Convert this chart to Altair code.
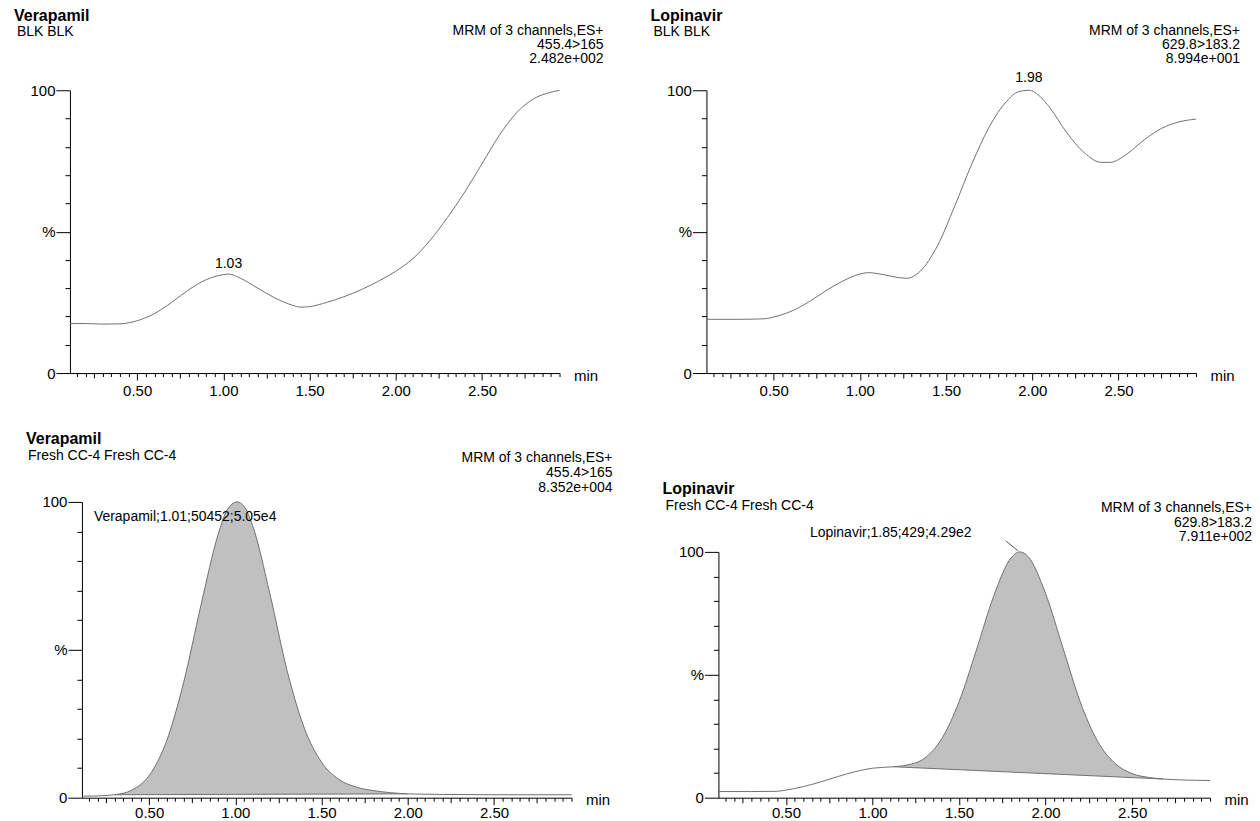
import altair as alt
import pandas as pd

FONT = "Liberation Sans"
T_START, T_END = 0.11, 2.95

# ---------------- data ----------------
# Verapamil, BLK BLK
vb_t = [0.11, 0.2, 0.3, 0.4, 0.5, 0.6, 0.7, 0.8, 0.9, 1.0, 1.03, 1.1, 1.2, 1.3, 1.4, 1.45,
        1.5, 1.6, 1.7, 1.8, 1.9, 2.0, 2.1, 2.2, 2.3, 2.4, 2.5, 2.6, 2.7, 2.8, 2.9, 2.95]
vb_y = [17.5, 17.5, 17.3, 17.4, 18.5, 21, 25, 29.5, 33, 34.8, 35, 33.5, 30, 26.5, 24, 23.3,
        23.5, 25, 27, 29.5, 32.5, 36, 40.5, 47, 55, 64, 74, 84, 92, 97, 99.3, 100]

# Lopinavir, BLK BLK
lb_t = [0.11, 0.3, 0.45, 0.5, 0.6, 0.7, 0.8, 0.9, 1.0, 1.05, 1.1, 1.2, 1.27, 1.35, 1.45, 1.55,
        1.65, 1.75, 1.85, 1.92, 1.98, 2.05, 2.1, 2.2, 2.3, 2.4, 2.45, 2.55, 2.65, 2.75, 2.85, 2.95]
lb_y = [19, 19, 19.2, 19.8, 21.8, 25, 29, 32.5, 35, 35.5, 35.2, 34, 33.5, 36, 45, 59,
        74, 87, 96, 99.5, 100, 97.5, 94, 85, 78, 74.5, 74.5, 77.5, 82.5, 86.5, 88.8, 89.8]

# Verapamil, Fresh CC-4
vc_t = [0.11, 0.2, 0.3, 0.4, 0.5, 0.6, 0.7, 0.8, 0.9, 0.95, 1.01, 1.05, 1.1, 1.2, 1.3, 1.4,
        1.5, 1.6, 1.7, 1.8, 1.9, 2.0, 2.2, 2.5, 2.95]
vc_y = [0.5, 0.6, 1.0, 2.6, 7.5, 19, 39, 65, 89, 97, 100, 98.5, 92, 69, 43, 23.5,
        12, 6.2, 3.6, 2.4, 1.7, 1.3, 1.1, 1.0, 1.0]
vc_fill = [0.3, 2.0]          # integrated region (min)
vc_base = [1.0, 1.3]          # baseline % at region ends

# Lopinavir, Fresh CC-4
lc_t = [0.11, 0.3, 0.45, 0.5, 0.6, 0.7, 0.8, 0.9, 1.0, 1.12, 1.2, 1.3, 1.4, 1.5, 1.6, 1.7,
        1.8, 1.85, 1.9, 2.0, 2.1, 2.2, 2.3, 2.4, 2.5, 2.6, 2.68, 2.8, 2.95]
lc_y = [2.5, 2.5, 2.6, 3.1, 4.5, 6.4, 8.6, 10.6, 12.0, 12.6, 13.3, 16, 24, 39, 60, 82,
        97.5, 100, 98, 83, 61, 39, 23, 14, 9.8, 8.2, 7.6, 7.2, 7.0]
lc_fill = [1.12, 2.68]
lc_base = [12.6, 7.6]

# tick values
x_ticks = [round(0.15 + 0.05 * i, 2) for i in range(57)]
y_ticks = list(range(0, 101, 10))

MAJOR = "abs(datum.value*2 - round(datum.value*2)) < 0.001"
MID = "abs(datum.value*4 - round(datum.value*4)) < 0.001"

LINE_COLOR = "#707070"
FILL_COLOR = "#c0c0c0"
FS = 14      # header / annotation font size
AFS = 15     # axis label font size
TFS = 16     # compound title size


def encs(xrange, yrange, yoffset, lpad):
    x_axis = alt.Axis(
        values=x_ticks,
        tickSize={"condition": [{"test": MAJOR, "value": 7}, {"test": MID, "value": 5}], "value": 3.5},
        labelExpr=f"{MAJOR} ? format(datum.value, '.2f') : ''",
        labelFont=FONT, labelFontSize=AFS, labelColor="black", labelPadding=lpad,
        labelOverlap=False, labelFlush=False,
        domainColor="black", domainWidth=1, tickColor="black", tickWidth=1, grid=False,
        title="min", titleX=xrange[1] + 14, titleY=2, titleAlign="left", titleBaseline="middle",
        titleFont=FONT, titleFontSize=AFS, titleFontWeight="normal", titleColor="black",
    )
    y_axis = alt.Axis(
        values=y_ticks,
        tickSize={"condition": {"test": "datum.value % 50 === 0", "value": 14}, "value": 5},
        labelExpr="datum.value === 100 ? '100' : datum.value === 50 ? '%' : datum.value === 0 ? '0' : ''",
        labelFont=FONT, labelFontSize=AFS, labelColor="black", labelPadding=1, labelOverlap=False,
        labelFlush=False,
        domainColor="black", domainWidth=1, tickColor="black", tickWidth=1, grid=False,
        title="", offset=yoffset,
    )
    x = alt.X("t:Q", scale=alt.Scale(domain=[T_START, T_END], range=xrange, nice=False, zero=False),
              axis=x_axis)
    y = alt.Y("y:Q", scale=alt.Scale(domain=[0, 100], range=yrange, nice=False, zero=False),
              axis=y_axis)
    return x, y


def text_at(txt, px, py, align="left", size=FS, bold=False):
    return alt.Chart(alt.Data(values=[{}])).mark_text(
        text=txt, align=align, baseline="middle", font=FONT, fontSize=size,
        fontWeight="bold" if bold else "normal", color="black",
    ).encode(x=alt.value(px), y=alt.value(py))


def panel(t, y, xrange, yrange, height, yoffset, heads, labels, fill=None, leader=None, lpad=3):
    x_enc, y_enc = encs(xrange, yrange, yoffset, lpad)
    df = pd.DataFrame({"t": t, "y": y})
    layers = []
    if fill is not None:
        (ta, tb), (ba, bb) = fill
        area = alt.Chart(df).transform_filter(
            f"datum.t >= {ta} - 1e-9 && datum.t <= {tb} + 1e-9"
        ).transform_calculate(
            base=f"{ba} + (datum.t - {ta}) * ({bb} - {ba}) / ({tb} - {ta})"
        ).mark_area(interpolate="monotone", color=FILL_COLOR, opacity=1).encode(
            x=x_enc, y=y_enc, y2="base:Q"
        )
        base = alt.Chart(pd.DataFrame({"t": [ta, tb], "y": [ba, bb]})).mark_line(
            color=LINE_COLOR, strokeWidth=1).encode(x=x_enc, y=y_enc)
        layers += [area, base]
    layers.append(alt.Chart(df).mark_line(interpolate="monotone", color=LINE_COLOR,
                                          strokeWidth=1).encode(x=x_enc, y=y_enc))
    for (lt, ly, txt, dx, dy) in labels:
        layers.append(alt.Chart(pd.DataFrame({"t": [lt], "y": [ly], "label": [txt]})).mark_text(
            font=FONT, fontSize=FS, color="black", dx=dx, dy=dy, baseline="middle"
        ).encode(x=x_enc, y=y_enc, text="label:N"))
    if leader is not None:
        (x1, y1, x2, y2) = leader
        layers.append(alt.Chart(pd.DataFrame({"t": [x1], "y": [y1], "t2": [x2], "y2": [y2]})).mark_rule(
            color="#555555", strokeWidth=1).encode(x=x_enc, y=y_enc, x2="t2:Q", y2="y2:Q"))
    for h in heads:
        layers.append(text_at(*h))
    return alt.layer(*layers).properties(width=490, height=height)


p1 = panel(vb_t, vb_y, [0, 490], [283, 0], 283, 0,
           [("Verapamil", -56, -74, "left", TFS, True),
            ("BLK BLK", -53, -58, "left", FS),
            ("MRM of 3 channels,ES+", 534, -59, "right", FS),
            ("455.4>165", 534, -45, "right", FS),
            ("2.482e+002", 534, -31, "right", FS)],
           [(1.03, 35, "1.03", 0, -10)])

p2 = panel(lb_t, lb_y, [0, 490], [283, 0], 283, 0,
           [("Lopinavir", -56, -74, "left", TFS, True),
            ("BLK BLK", -53, -58, "left", FS),
            ("MRM of 3 channels,ES+", 534, -59, "right", FS),
            ("629.8>183.2", 534, -45, "right", FS),
            ("8.994e+001", 534, -31, "right", FS)],
           [(1.98, 100, "1.98", 0, -12)])

p3 = panel(vc_t, vc_y, [12, 502], [296, 0], 296, -12,
           [("Verapamil", -44, -63, "left", TFS, True),
            ("Fresh CC-4 Fresh CC-4", -42, -46, "left", FS),
            ("MRM of 3 channels,ES+", 543, -44, "right", FS),
            ("455.4>165", 543, -29, "right", FS),
            ("8.352e+004", 543, -14, "right", FS)],
           [(1.01, 100, "Verapamil;1.01;50452;5.05e4", -52, 15)],
           fill=(vc_fill, vc_base), lpad=1)

p4 = panel(lc_t, lc_y, [12, 504], [296, 50], 296, -12,
           [("Lopinavir", -44, -13, "left", TFS, True),
            ("Fresh CC-4 Fresh CC-4", -41, 4, "left", FS),
            ("MRM of 3 channels,ES+", 546, 6, "right", FS),
            ("629.8>183.2", 546, 21, "right", FS),
            ("7.911e+002", 546, 35, "right", FS)],
           [(1.85, 100, "Lopinavir;1.85;429;4.29e2", -129, -19)],
           fill=(lc_fill, lc_base), leader=(1.77, 104.5, 1.84, 100.5), lpad=1)

chart = alt.concat(p1, p2, p3, p4, columns=2, spacing={"row": 129, "column": 147},
                   bounds="flush").properties(
    padding={"left": 6, "top": 0, "right": 0, "bottom": 0}
).configure(font=FONT).configure_view(stroke=None)

chart.save("out.html", embed_options={"renderer": "svg", "actions": False})
